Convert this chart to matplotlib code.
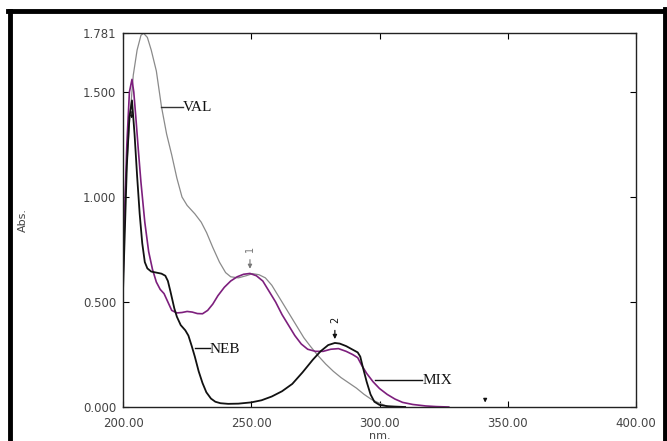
import numpy as np
import matplotlib.pyplot as plt
from matplotlib.lines import Line2D

# spectra (nm, absorbance)
neb_nm = [200, 200.5, 201.5, 202.5, 203.5, 204.5, 205.5, 206.5, 207.5, 208.5, 209.5, 211, 213, 215,
          216.5, 217.5, 218.5, 220, 221, 222.5, 224.3, 225.5, 226.8, 228, 229.5, 231, 232.5, 234.3,
          236, 238, 241, 245, 250, 254, 258, 262, 266, 270, 274, 277, 280, 282.6, 284.5, 287, 290,
          291.5, 292.5, 293.5, 295, 296.5, 298, 300, 303, 306, 310]
neb_abs = [0.55, 0.75, 1.15, 1.38, 1.46, 1.30, 1.10, 0.92, 0.78, 0.69, 0.66, 0.645, 0.64, 0.635,
           0.625, 0.60, 0.55, 0.47, 0.43, 0.39, 0.365, 0.34, 0.29, 0.24, 0.17, 0.114, 0.07, 0.04,
           0.025, 0.018, 0.015, 0.016, 0.022, 0.032, 0.05, 0.075, 0.11, 0.165, 0.225, 0.265, 0.295,
           0.305, 0.302, 0.29, 0.27, 0.26, 0.24, 0.19, 0.12, 0.06, 0.025, 0.01, 0.004, 0.002, 0.0]

mix_nm = [200, 200.7, 201.5, 202.5, 203.5, 204.2, 205, 206, 207, 208.5, 210, 211.5, 213, 214.5, 216,
          217.5, 219, 221, 223, 225, 227, 229, 231, 233, 235, 237, 239.5, 242, 244.5, 247, 249.5,
          252, 254.5, 257, 259.5, 262, 264.5, 267, 269.5, 272, 275, 278, 281, 284, 287, 289.5,
          291.5, 293, 295, 297.5, 300, 303, 306, 309, 313, 318, 322, 327]
mix_abs = [0.6, 0.95, 1.25, 1.50, 1.56, 1.50, 1.38, 1.22, 1.07, 0.88, 0.74, 0.655, 0.595, 0.56, 0.54,
           0.50, 0.46, 0.448, 0.45, 0.455, 0.452, 0.445, 0.444, 0.46, 0.49, 0.53, 0.57, 0.60, 0.62,
           0.632, 0.636, 0.625, 0.6, 0.55, 0.5, 0.44, 0.39, 0.34, 0.30, 0.275, 0.265, 0.265, 0.275,
           0.278, 0.265, 0.25, 0.235, 0.2, 0.16, 0.12, 0.088, 0.06, 0.038, 0.022, 0.012, 0.005,
           0.002, 0.0]

val_nm = [200, 201, 202.5, 204, 205.5, 207, 208, 209.5, 211, 213, 215, 217, 219, 221, 223, 225, 228,
          230.5, 232.6, 235, 237.6, 240, 242, 245, 248, 250.5, 253, 255.5, 258, 260.5, 263, 265.5,
          268, 270.5, 273, 276, 279, 282, 285, 288, 291, 294, 297, 300, 302, 304]
val_abs = [0.75, 1.05, 1.35, 1.58, 1.70, 1.77, 1.78, 1.76, 1.70, 1.60, 1.43, 1.30, 1.20, 1.09, 1.00,
           0.96, 0.92, 0.88, 0.83, 0.76, 0.69, 0.64, 0.62, 0.615, 0.625, 0.635, 0.63, 0.615, 0.58,
           0.53, 0.48, 0.43, 0.38, 0.33, 0.29, 0.245, 0.205, 0.17, 0.14, 0.115, 0.09, 0.06, 0.035,
           0.018, 0.008, 0.0]

x_ticks = [200, 250, 300, 350, 400]
y_ticks = [0.0, 0.5, 1.0, 1.5, 1.781]

fig = plt.figure(figsize=(6.67, 4.41), dpi=100)
ax = fig.add_axes([123/667, 1-407/441, 513/667, 374/441])

ax.plot(val_nm, val_abs, color='#8a8a8a', lw=0.9)
ax.plot(mix_nm, mix_abs, color='#7d1f7d', lw=1.2)
ax.plot(neb_nm, neb_abs, color='#111111', lw=1.3)

ax.set_xlim(200, 400)
ax.set_ylim(0, 1.781)
ax.set_xticks(x_ticks)
ax.set_xticklabels(['%.2f' % v for v in x_ticks])
ax.set_yticks(y_ticks)
ax.set_yticklabels(['%.3f' % v for v in y_ticks])
ax.tick_params(direction='in', length=4, width=0.8, top=True, right=True,
               labelsize=8.5, labelcolor='#444444')
ax.tick_params(axis='x', pad=7)
ax.tick_params(axis='y', pad=5)
for s in ax.spines.values():
    s.set_linewidth(1.0)
    s.set_color('#222222')

serif = 'Liberation Serif'
lab = dict(family=serif, fontsize=11, va='center', color='#111111')
ax.plot([214.8, 223.4], [1.43, 1.43], color='#333333', lw=1)
ax.text(223.4, 1.425, 'VAL', **lab)
ax.plot([228.1, 233.9], [0.281, 0.281], color='#111111', lw=1)
ax.text(233.9, 0.276, 'NEB', **lab)
ax.plot([298.1, 316.6], [0.129, 0.129], color='#111111', lw=1)
ax.text(316.6, 0.124, 'MIX', **lab)

# peak markers
ax.annotate('', xy=(249.5, 0.645), xytext=(249.5, 0.715),
            arrowprops=dict(arrowstyle='-|>', color='#777777', lw=0.8, mutation_scale=6))
ax.text(249.5, 0.755, '1', rotation=90, fontsize=7, color='#777777', ha='center', va='center')
ax.annotate('', xy=(282.6, 0.31), xytext=(282.6, 0.378),
            arrowprops=dict(arrowstyle='-|>', color='#111111', lw=0.9, mutation_scale=6))
ax.text(282.6, 0.415, '2', rotation=90, fontsize=7, color='#111111', ha='center', va='center')
ax.annotate('', xy=(341.2, 0.008), xytext=(341.2, 0.05),
            arrowprops=dict(arrowstyle='-|>', color='#111111', lw=0.9, mutation_scale=5))
ax.annotate('', xy=(203.4, 1.36), xytext=(203.4, 1.42),
            arrowprops=dict(arrowstyle='-|>', color='#111111', lw=0.8, mutation_scale=4))

fig.text(380/667, 1-436/441, 'nm.', fontsize=8, color='#444444', ha='center', va='center')
fig.text(23/667, 1-220/441, 'Abs.', fontsize=8, color='#444444', rotation=90,
         ha='center', va='center')

# black frame around the picture (left, top, right)
fig.add_artist(Line2D([10/667, 10/667], [0, 1-10.5/441], color='black', lw=3.5,
                      transform=fig.transFigure))
fig.add_artist(Line2D([8/667, 1], [1-10.5/441, 1-10.5/441], color='black', lw=3.5,
                      transform=fig.transFigure))
fig.add_artist(Line2D([665/667, 665/667], [0, 1-9/441], color='black', lw=3.5,
                      transform=fig.transFigure))

fig.savefig('out.png', dpi=100)
